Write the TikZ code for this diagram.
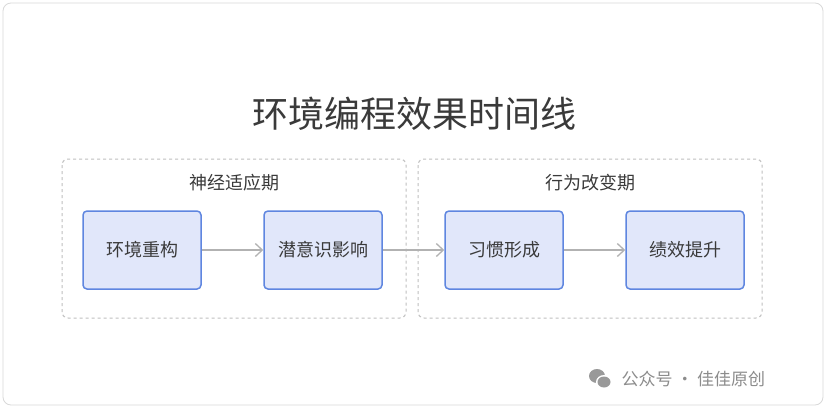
\documentclass[tikz,border=0pt]{standalone}
\usepackage{fontspec}
\setmainfont{Noto Sans CJK SC}
\usetikzlibrary{arrows.meta}
\definecolor{boxfill}{HTML}{E1E7FA}
\definecolor{boxline}{HTML}{5F86E0}
\definecolor{txt}{HTML}{3A3A3A}
\tikzset{
 stepbox/.style={draw=boxline,line width=1.5pt,fill=boxfill,rounded corners=4pt,minimum width=118pt,minimum height=78pt,font=\fontsize{18}{20}\selectfont,text=txt},
 grp/.style={draw=black!25,dashed,line width=1pt,rounded corners=6pt},
 conn/.style={draw=black!30,line width=1.3pt,-{Straight Barb[length=7pt,width=13pt]}},
}
\begin{document}
\begin{tikzpicture}[x=1pt,y=-1pt]
\useasboundingbox (0,0) rectangle (828,413);
\fill[white] (0,0) rectangle (828,413);
\draw[black!15,line width=0.8pt,rounded corners=8pt] (3,3) rectangle (823,405);
\node[text=txt,font=\fontsize{36}{40}\selectfont] (title) at (414,114) {环境编程效果时间线};
\draw[grp] (62,159) rectangle (406,318);
\draw[grp] (418,159) rectangle (762,318);
\node[text=txt,font=\fontsize{18}{20}\selectfont] (g1) at (234,183) {神经适应期};
\node[text=txt,font=\fontsize{18}{20}\selectfont] (g2) at (590,183) {行为改变期};
\node[stepbox] (a) at (142,250) {环境重构};
\node[stepbox] (b) at (323,250) {潜意识影响};
\node[stepbox] (c) at (504,250) {习惯形成};
\node[stepbox] (d) at (685,250) {绩效提升};
\draw[conn] (a) -- (b);
\draw[conn] (b) -- (c);
\draw[conn] (c) -- (d);
\fill[black!40] (597,376) ellipse (8pt and 7pt);
\fill[white] (604,382) ellipse (8pt and 7pt);
\fill[black!40] (604,382) ellipse (6.5pt and 5.5pt);
\node[text=black!45,font=\fontsize{17}{20}\selectfont,anchor=west] (wm) at (618,379) {公众号 · 佳佳原创};
\end{tikzpicture}
\end{document}
